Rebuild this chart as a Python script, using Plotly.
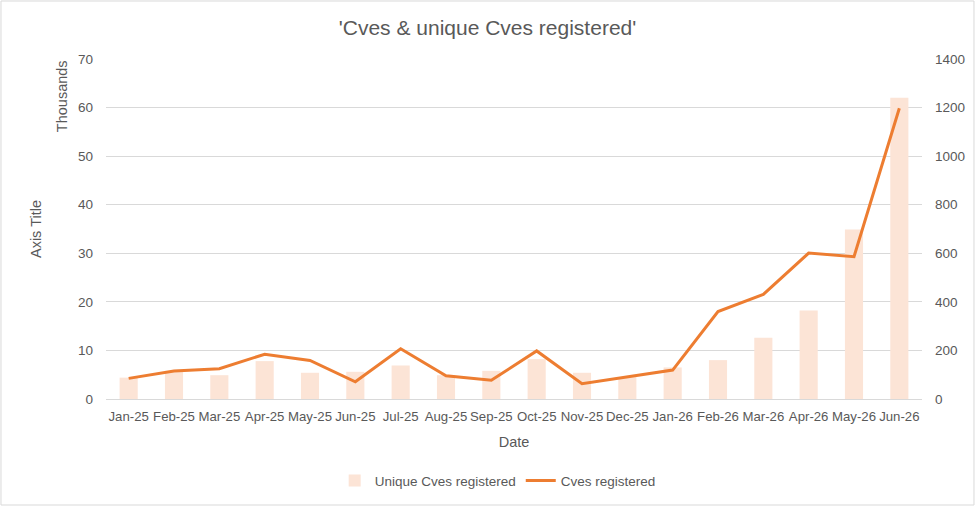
import plotly.graph_objects as go

# Monthly values
months = ["Jan-25", "Feb-25", "Mar-25", "Apr-25", "May-25", "Jun-25",
          "Jul-25", "Aug-25", "Sep-25", "Oct-25", "Nov-25", "Dec-25",
          "Jan-26", "Feb-26", "Mar-26", "Apr-26", "May-26", "Jun-26"]

unique_cves = [4400, 5800, 4900, 7800, 5400, 5600,
               6900, 4900, 5800, 8200, 5400, 4500,
               6500, 8000, 12600, 18200, 34900, 62000]

cves = [85, 115, 125, 184, 159, 71,
        207, 96, 77, 198, 63, 91,
        119, 360, 431, 601, 586, 1197]

left_ticks = [0, 10000, 20000, 30000, 40000, 50000, 60000, 70000]
left_labels = ["0", "10", "20", "30", "40", "50", "60", "70"]
right_ticks = [0, 200, 400, 600, 800, 1000, 1200, 1400]

text_col = "#595959"
font_name = "Liberation Sans, Arial, sans-serif"

fig = go.Figure()

fig.add_trace(go.Bar(
    x=months, y=unique_cves,
    name="Unique Cves registered",
    marker=dict(color="#FCE4D6", line=dict(width=0)),
    width=0.4,
    yaxis="y"
))

fig.add_trace(go.Scatter(
    x=months, y=cves,
    name="Cves registered",
    mode="lines",
    line=dict(color="#ED7D31", width=3),
    yaxis="y2"
))

fig.update_layout(
    width=975, height=506,
    margin=dict(l=106, r=53, t=59, b=107, autoexpand=False),
    plot_bgcolor="white",
    paper_bgcolor="white",
    font=dict(family=font_name, size=13.5, color=text_col),
    title=dict(
        text="'Cves & unique Cves registered'",
        font=dict(size=21, color=text_col),
        x=0.5, xanchor="center", y=0.945, yanchor="middle"
    ),
    xaxis=dict(
        title=dict(text="Date", font=dict(size=14.5), standoff=14),
        showgrid=False,
        showline=True, linecolor="#D9D9D9",
        tickfont=dict(size=13.2),
        tickangle=0, automargin=False,
        ticks="", ticklabelstandoff=5
    ),
    yaxis=dict(
        title=dict(text="Axis Title", font=dict(size=14.5), standoff=32),
        range=[0, 70000],
        tickvals=left_ticks, ticktext=left_labels,
        gridcolor="#D9D9D9", zeroline=False,
        tickfont=dict(size=13.5), automargin=False,
        ticklabelstandoff=12
    ),
    yaxis2=dict(
        overlaying="y", side="right",
        range=[0, 1400],
        tickvals=right_ticks,
        showgrid=False, zeroline=False,
        tickfont=dict(size=13.5), automargin=False,
        ticklabelstandoff=12
    ),
    legend=dict(
        orientation="h",
        x=0.48, xanchor="center",
        y=-0.24, yanchor="middle",
        font=dict(size=13.5),
        traceorder="normal"
    ),
    annotations=[
        dict(
            text="Thousands", textangle=-90,
            xref="paper", yref="paper",
            x=-0.053, y=0.89,
            xanchor="center", yanchor="middle",
            font=dict(size=14.5, color=text_col),
            showarrow=False
        )
    ],
    shapes=[
        # thin grey frame round the whole chart
        dict(
            type="rect", xref="paper", yref="paper",
            x0=-0.1287, x1=1.0637, y0=-0.3118, y1=1.1706,
            line=dict(color="#D9D9D9", width=1)
        )
    ]
)

# drop the default page margin so the figure sits at the window's corner
fig.write_html("out.html", config={"displayModeBar": False},
               post_script="document.body.style.margin='0';")
